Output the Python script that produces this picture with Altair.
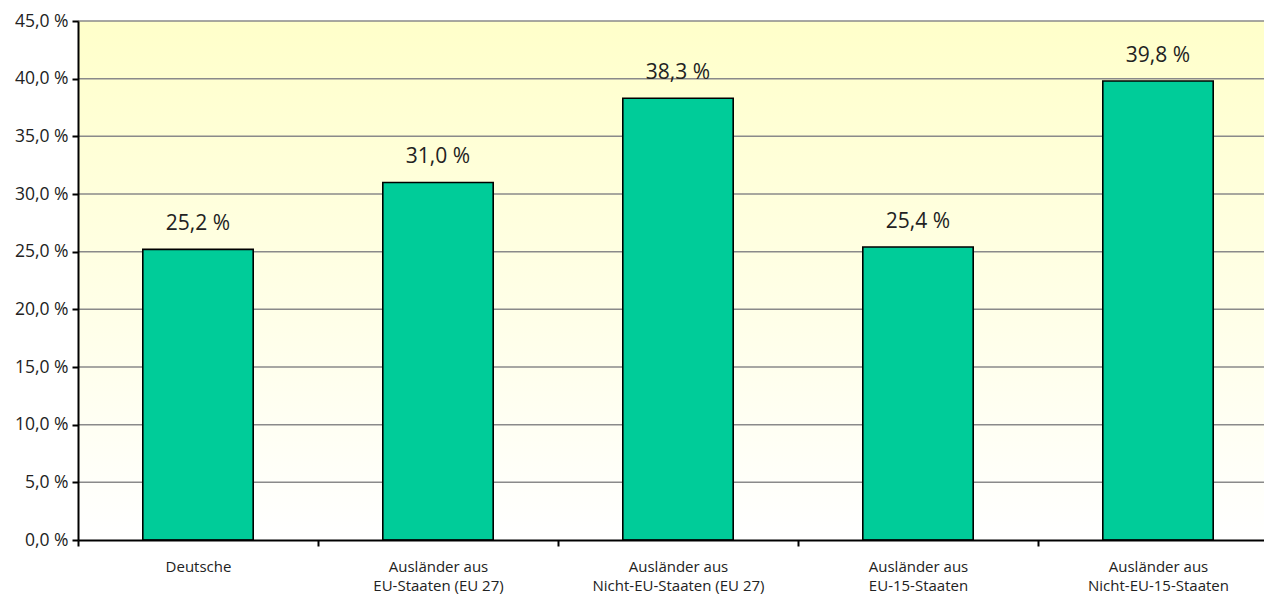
import altair as alt
import pandas as pd

categories = [
    "Deutsche",
    "Ausländer aus\nEU-Staaten (EU 27)",
    "Ausländer aus\nNicht-EU-Staaten (EU 27)",
    "Ausländer aus\nEU-15-Staaten",
    "Ausländer aus\nNicht-EU-15-Staaten",
]
values = [25.2, 31.0, 38.3, 25.4, 39.8]
y_ticks = [0, 5, 10, 15, 20, 25, 30, 35, 40, 45]

df = pd.DataFrame({"cat": categories, "value": values})
grid_df = pd.DataFrame({"value": y_ticks[1:]})

FONT = "Open Sans"
W, H = 1200, 519

x = alt.X(
    "cat:N",
    sort=categories,
    title=None,
    scale=alt.Scale(paddingInner=0, paddingOuter=0),
    axis=alt.Axis(
        labelAngle=0,
        labelExpr="split(datum.label, '\\n')",
        labelFontSize=15,
        labelLineHeight=19.5,
        labelColor="#222222",
        labelFont=FONT,
        labelPadding=13,
        labelLimit=400,
        tickBand="extent",
        tickSize=6,
        tickColor="black",
        tickWidth=2,
        domainColor="black",
        domainWidth=2,
        grid=False,
        zindex=1,
    ),
)
y_scale = alt.Scale(domain=[0, 45], nice=False)
y = alt.Y(
    "value:Q",
    title=None,
    scale=y_scale,
    axis=alt.Axis(
        values=y_ticks,
        labelExpr="replace(format(datum.value, '.1f'), '.', ',') + ' %'",
        labelFontSize=17.5,
        labelColor="#222222",
        labelFont=FONT,
        labelPadding=4,
        tickSize=6,
        tickColor="black",
        tickWidth=2,
        domainColor="black",
        domainWidth=2,
        grid=False,
        zindex=1,
    ),
)

background = alt.Chart(alt.Data(values=[{}])).mark_rect(
    color=alt.LinearGradient(
        gradient="linear",
        x1=0, y1=0, x2=0, y2=1,
        stops=[
            alt.GradientStop(offset=0, color="#FFFFCA"),
            alt.GradientStop(offset=1, color="#FFFFFF"),
        ],
    )
).encode(
    x=alt.value(0), x2=alt.value(W), y=alt.value(0), y2=alt.value(H)
)

grid = alt.Chart(grid_df).mark_rule(color="#8a8a8a", strokeWidth=1.5).encode(
    y=alt.Y("value:Q", scale=y_scale), x=alt.value(0), x2=alt.value(W)
)

bars = alt.Chart(df).mark_bar(
    width=alt.RelativeBandSize(0.46),
    color="#00CC99",
    stroke="black",
    strokeWidth=1.6,
).encode(x=x, y=y)

labels = alt.Chart(df).transform_calculate(
    label="replace(format(datum.value, '.1f'), '.', ',') + ' %'"
).mark_text(
    fontSize=21,
    font=FONT,
    color="#222222",
    baseline="alphabetic",
    dy=-19,
).encode(x=alt.X("cat:N", sort=categories), y="value:Q", text="label:N")

chart = (
    alt.layer(background, grid, bars, labels)
    .properties(
        width=W,
        height=H,
        autosize=alt.AutoSizeParams(type="none"),
        padding={"left": 70, "top": 13, "right": -14, "bottom": 54},
    )
    .configure_view(stroke=None)
    .configure(background="white")
)

chart.save("out.html", embed_options={"renderer": "svg", "actions": False})
